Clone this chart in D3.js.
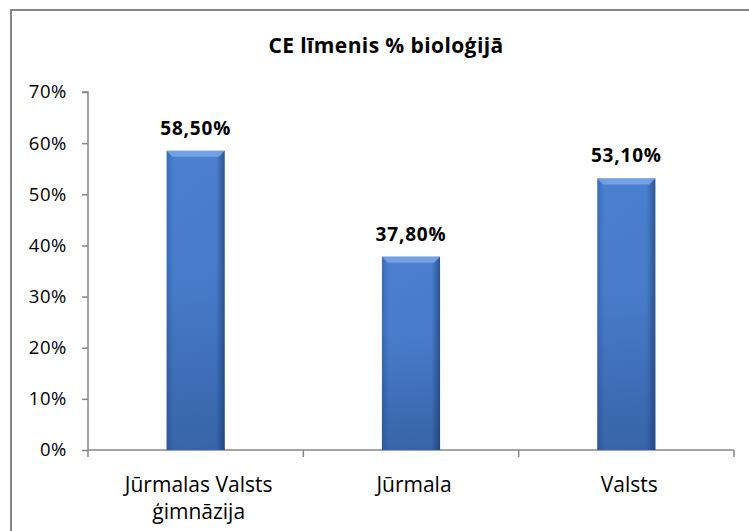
<!DOCTYPE html>
<html>
<head>
<meta charset="utf-8">
<script src="https://cdn.jsdelivr.net/npm/d3@7"></script>
<style>
  body { margin: 0; background: #fff; }
  svg { display: block; font-family: "Open Sans", Lato, sans-serif; }
</style>
</head>
<body>
<svg id="chart" width="749" height="531"></svg>
<script>
// Chart data
const categories = [['Jūrmalas Valsts', 'ģimnāzija'], ['Jūrmala'], ['Valsts']];
const values = [0.585, 0.378, 0.531];
const valueLabels = ['58,50%', '37,80%', '53,10%'];
const yTicks = [0, 0.1, 0.2, 0.3, 0.4, 0.5, 0.6, 0.7];
const title = 'CE līmenis % bioloģijā';

const svg = d3.select('#chart');
const margin = { left: 88, right: 15, top: 92, bottom: 81 };
const width = 749, height = 531;

// Outer frame (right/bottom edges fall outside the picture)
svg.append('rect')
    .attr('x', 11).attr('y', 10)
    .attr('width', 760).attr('height', 540)
    .attr('fill', 'none')
    .attr('stroke', '#868686')
    .attr('stroke-width', 2);

// Gradients for the bevelled bars
const defs = svg.append('defs');
const gH = defs.append('linearGradient').attr('id', 'barH')
    .attr('x1', 0).attr('x2', 1).attr('y1', 0).attr('y2', 0);
gH.append('stop').attr('offset', '0%').attr('stop-color', '#3a6cb8');
gH.append('stop').attr('offset', '12%').attr('stop-color', '#4b80d0');
gH.append('stop').attr('offset', '85%').attr('stop-color', '#4a7fcf');
gH.append('stop').attr('offset', '100%').attr('stop-color', '#2b5591');

const gV = defs.append('linearGradient').attr('id', 'barV')
    .attr('x1', 0).attr('x2', 0).attr('y1', 0).attr('y2', 1);
gV.append('stop').attr('offset', '0%').attr('stop-color', '#0a2450').attr('stop-opacity', 0);
gV.append('stop').attr('offset', '40%').attr('stop-color', '#0a2450').attr('stop-opacity', 0.04);
gV.append('stop').attr('offset', '100%').attr('stop-color', '#0a2450').attr('stop-opacity', 0.3);

const x = d3.scaleBand()
    .domain(d3.range(values.length))
    .range([margin.left, width - margin.right])
    .paddingInner(0.73).paddingOuter(0.365);

const y = d3.scaleLinear()
    .domain([0, 0.7])
    .range([height - margin.bottom, margin.top]);

// Title
svg.append('text')
    .attr('x', 386).attr('y', 53)
    .attr('text-anchor', 'middle')
    .attr('font-size', 21)
    .attr('font-weight', 'bold')
    .attr('letter-spacing', 0.4)
    .attr('fill', '#000')
    .text(title);

// Y axis
const yAxis = svg.append('g')
    .attr('transform', `translate(${margin.left},0)`)
    .call(d3.axisLeft(y).tickValues(yTicks).tickFormat(d3.format('.0%')).tickSize(6).tickPadding(15));
yAxis.select('.domain').attr('stroke', '#868686').attr('stroke-width', 1.5)
    .attr('d', `M-6,${y(0.7)}H0V${y(0)}`);
yAxis.selectAll('.tick line').attr('stroke', '#868686').attr('stroke-width', 1.5);
yAxis.selectAll('.tick text').attr('font-size', 18.5).attr('fill', '#000')
    .attr('letter-spacing', 0.6)
    .attr('font-family', '"Open Sans", Lato, sans-serif');

// X axis
const xAxisG = svg.append('g')
    .attr('transform', `translate(0,${y(0)})`);
xAxisG.append('line')
    .attr('x1', margin.left).attr('x2', width - margin.right)
    .attr('stroke', '#868686').attr('stroke-width', 1.5);
const bounds = d3.range(values.length + 1).map(i => margin.left + i * x.step());
xAxisG.selectAll('line.tick')
    .data(bounds)
    .join('line')
    .attr('class', 'tick')
    .attr('x1', d => d).attr('x2', d => d)
    .attr('y1', 0).attr('y2', 7)
    .attr('stroke', '#868686').attr('stroke-width', 1.5);

// Category labels
const catLabels = svg.append('g');
categories.forEach((lines, i) => {
    const t = catLabels.append('text')
        .attr('text-anchor', 'middle')
        .attr('font-size', 21)
        .attr('fill', '#000');
    lines.forEach((ln, j) => {
        t.append('tspan')
            .attr('x', x(i) + x.bandwidth() / 2 + 3)
            .attr('y', 492 + j * 27)
            .text(ln);
    });
});

// Bars
const bars = svg.append('g');
bars.selectAll('rect.bar')
    .data(values)
    .join('rect')
    .attr('class', 'bar')
    .attr('x', (d, i) => x(i))
    .attr('y', d => y(d))
    .attr('width', x.bandwidth())
    .attr('height', d => y(0) - y(d))
    .attr('fill', 'url(#barH)');
bars.selectAll('rect.shade')
    .data(values)
    .join('rect')
    .attr('class', 'shade')
    .attr('x', (d, i) => x(i))
    .attr('y', d => y(d))
    .attr('width', x.bandwidth())
    .attr('height', d => y(0) - y(d))
    .attr('fill', 'url(#barV)');
// top bevel highlight
bars.selectAll('path.bevel')
    .data(values)
    .join('path')
    .attr('class', 'bevel')
    .attr('d', (d, i) => {
        const x0 = x(i), x1 = x(i) + x.bandwidth(), y0 = y(d);
        return `M${x0},${y0}H${x1}L${x1 - 6},${y0 + 6}H${x0 + 6}Z`;
    })
    .attr('fill', '#7aa8e6')
    .attr('opacity', 0.85);

// Value labels
svg.append('g').selectAll('text')
    .data(values)
    .join('text')
    .attr('x', (d, i) => x(i) + x.bandwidth() / 2)
    .attr('y', d => y(d) - 16)
    .attr('text-anchor', 'middle')
    .attr('font-size', 19)
    .attr('font-weight', 'bold')
    .attr('letter-spacing', 0.8)
    .attr('fill', '#000')
    .text((d, i) => valueLabels[i]);
</script>
</body>
</html>
